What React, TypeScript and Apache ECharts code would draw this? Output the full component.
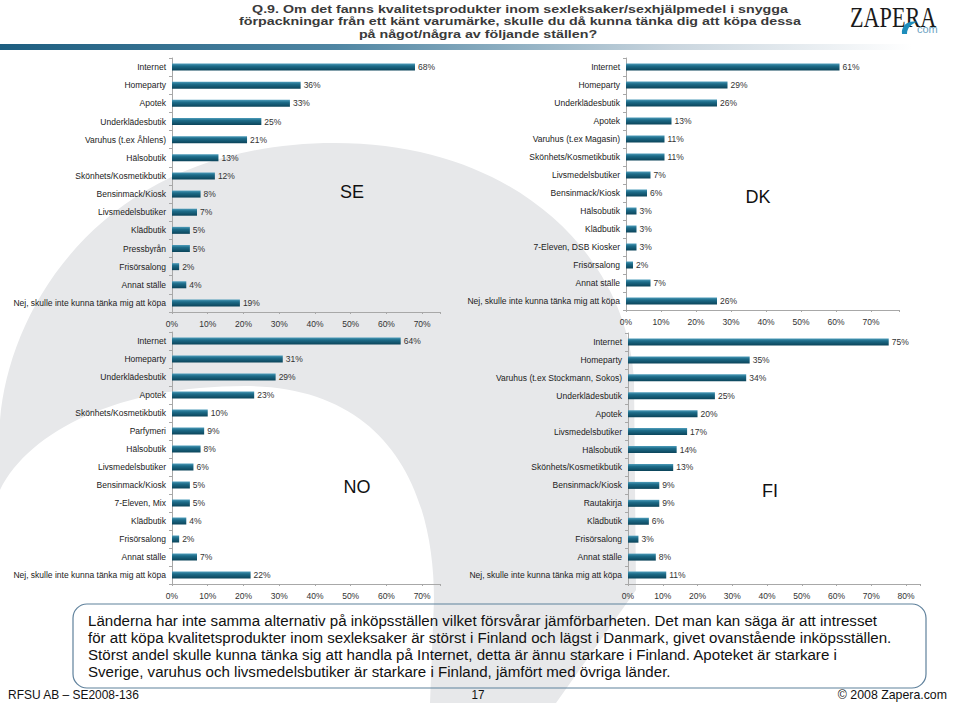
import React, { useEffect, useRef } from "react";
import * as echarts from "echarts";

const seCategories = ["Internet", "Homeparty", "Apotek", "Underklädesbutik", "Varuhus (t.ex Åhlens)", "Hälsobutik", "Skönhets/Kosmetikbutik", "Bensinmack/Kiosk", "Livsmedelsbutiker", "Klädbutik", "Pressbyrån", "Frisörsalong", "Annat ställe", "Nej, skulle inte kunna tänka mig att köpa"];
const seValues = [68, 36, 33, 25, 21, 13, 12, 8, 7, 5, 5, 2, 4, 19];

const dkCategories = ["Internet", "Homeparty", "Underklädesbutik", "Apotek", "Varuhus (t.ex Magasin)", "Skönhets/Kosmetikbutik", "Livsmedelsbutiker", "Bensinmack/Kiosk", "Hälsobutik", "Klädbutik", "7-Eleven, DSB Kiosker", "Frisörsalong", "Annat ställe", "Nej, skulle inte kunna tänka mig att köpa"];
const dkValues = [61, 29, 26, 13, 11, 11, 7, 6, 3, 3, 3, 2, 7, 26];

const noCategories = ["Internet", "Homeparty", "Underklädesbutik", "Apotek", "Skönhets/Kosmetikbutik", "Parfymeri", "Hälsobutik", "Livsmedelsbutiker", "Bensinmack/Kiosk", "7-Eleven, Mix", "Klädbutik", "Frisörsalong", "Annat ställe", "Nej, skulle inte kunna tänka mig att köpa"];
const noValues = [64, 31, 29, 23, 10, 9, 8, 6, 5, 5, 4, 2, 7, 22];

const fiCategories = ["Internet", "Homeparty", "Varuhus (t.ex Stockmann, Sokos)", "Underklädesbutik", "Apotek", "Livsmedelsbutiker", "Hälsobutik", "Skönhets/Kosmetikbutik", "Bensinmack/Kiosk", "Rautakirja", "Klädbutik", "Frisörsalong", "Annat ställe", "Nej, skulle inte kunna tänka mig att köpa"];
const fiValues = [75, 35, 34, 25, 20, 17, 14, 13, 9, 9, 6, 3, 8, 11];

const countryLabels = ["SE", "DK", "NO", "FI"];
const axisMax = [75, 78, 75, 84];

const titleLines = [
  "Q.9. Om det fanns kvalitetsprodukter inom sexleksaker/sexhjälpmedel i snygga",
  "förpackningar från ett känt varumärke, skulle du då kunna tänka dig att köpa dessa",
  "på något/några av följande ställen?",
];

const noteLines = [
  "Länderna har inte samma alternativ på inköpsställen vilket försvårar jämförbarheten. Det man kan säga är att intresset",
  "för att köpa kvalitetsprodukter inom sexleksaker är störst i Finland och lägst i Danmark, givet ovanstående inköpsställen.",
  "Störst andel skulle kunna tänka sig att handla på Internet, detta är ännu starkare i Finland. Apoteket är starkare i",
  "Sverige, varuhus och livsmedelsbutiker är starkare i Finland, jämfört med övriga länder.",
];

const footerLeft = "RFSU AB – SE2008-136";
const footerPage = "17";
const footerRight = "© 2008 Zapera.com";

const SWOOSH =
  "M0,490 L0,420 C10,300 110,143 335,143 C520,143 628,260 634,380 L636,590 L556,703 L430,703 L434,600 C434,480 380,386 245,386 C120,386 30,430 0,490 Z";
const DROP = "M902,34 C901,26 908,20 917,22 C911,24 907,28 907,34 Z";

let registered = false;

export default function App() {
  const ref = useRef<HTMLDivElement>(null);
  useEffect(() => {
    document.body.style.margin = "0";
    if (!registered) {
      echarts.graphic.registerShape("bgSwoosh", echarts.graphic.extendPath(SWOOSH, {}));
      echarts.graphic.registerShape("logoDrop", echarts.graphic.extendPath(DROP, {}));
      registered = true;
    }
    const chart = echarts.init(ref.current!, null, { renderer: "svg" });

    const font = "'Liberation Sans', Arial, sans-serif";

    const grids = [
      { left: 172, top: 58, width: 268, height: 254 },
      { left: 626, top: 58, width: 273, height: 252 },
      { left: 172, top: 332, width: 268, height: 252 },
      { left: 628, top: 333, width: 292, height: 251 },
    ];
    const cats = [seCategories, dkCategories, noCategories, fiCategories];
    const vals = [seValues, dkValues, noValues, fiValues];

    const barColor = new echarts.graphic.LinearGradient(0, 0, 0, 1, [
      { offset: 0, color: "#4d9cba" },
      { offset: 0.35, color: "#1d6c89" },
      { offset: 1, color: "#0b445a" },
    ]);

    const option: any = {
      animation: false,
      backgroundColor: "#ffffff",
      grid: grids.map((g) => ({ ...g, containLabel: false })),
      xAxis: grids.map((_, i) => ({
        type: "value",
        gridIndex: i,
        min: 0,
        max: axisMax[i],
        interval: 10,
        splitLine: { show: false },
        axisLine: { show: true, lineStyle: { color: "#a8a8a8", width: 1 } },
        axisTick: { show: true, length: 2, lineStyle: { color: "#a8a8a8" } },
        axisLabel: {
          margin: 7,
          fontSize: 8.5,
          fontFamily: font,
          color: "#333",
          formatter: (v: number) => (v % 10 === 0 ? v + "%" : ""),
        },
      })),
      yAxis: grids.map((_, i) => ({
        type: "category",
        gridIndex: i,
        inverse: true,
        data: cats[i],
        axisLine: { show: true, lineStyle: { color: "#a8a8a8", width: 1 } },
        axisTick: { show: true, length: 3, lineStyle: { color: "#a8a8a8" } },
        axisLabel: { margin: 6, fontSize: 8.5, fontFamily: font, color: "#222" },
      })),
      series: grids.map((_, i) => ({
        type: "bar",
        xAxisIndex: i,
        yAxisIndex: i,
        data: vals[i],
        barWidth: 7,
        itemStyle: { color: barColor },
        label: {
          show: true,
          position: "right",
          distance: 3,
          formatter: "{c}%",
          fontSize: 8.5,
          fontFamily: font,
          color: "#333",
        },
      })),
      graphic: [
        { type: "bgSwoosh", z: -100, silent: true, style: { fill: "#e7e8ea" } },
        {
          type: "rect",
          z: -50,
          shape: { x: 0, y: 44, width: 960, height: 6 },
          style: {
            fill: new echarts.graphic.LinearGradient(0, 0, 1, 0, [
              { offset: 0, color: "#1d5e80" },
              { offset: 0.35, color: "#4f86a3" },
              { offset: 0.7, color: "#c9d5de" },
              { offset: 0.95, color: "#ffffff" },
            ]),
          },
        },
        ...titleLines.map((t, i) => ({
          type: "text",
          x: i < 2 ? 520 : 478,
          y: 9 + i * 12.5,
          scaleX: 1.24,
          style: {
            text: t,
            fontFamily: font,
            fontWeight: "bold",
            fontSize: 11.5,
            fill: "#3a3a3a",
            textAlign: "center",
            textVerticalAlign: "middle",
          },
        })),
        {
          type: "text",
          x: 850,
          y: 2,
          scaleX: 0.74,
          style: {
            text: "ZAPERA",
            fontFamily: "'Liberation Serif', 'DejaVu Serif', serif",
            fontSize: 30,
            fill: "#1a1a1a",
            textAlign: "left",
            textVerticalAlign: "top",
          },
        },
        { type: "logoDrop", style: { fill: "#1e8dbb" } },
        {
          type: "text",
          x: 917,
          y: 29,
          style: { text: "com", fontFamily: font, fontSize: 11, fill: "#6aa2c2", textVerticalAlign: "middle" },
        },
        ...countryLabels.map((c, i) => ({
          type: "text",
          x: [352, 758, 357, 770][i],
          y: [192, 197, 487, 491][i],
          style: {
            text: c,
            fontFamily: font,
            fontSize: 18,
            fill: "#111",
            textAlign: "center",
            textVerticalAlign: "middle",
          },
        })),
        {
          type: "rect",
          shape: { x: 73, y: 604, width: 853, height: 84, r: 14 },
          style: { fill: "none", stroke: "#5f819c", lineWidth: 1.2 },
        },
        ...noteLines.map((t, i) => ({
          type: "text",
          x: 88,
          y: 620 + i * 17.3,
          scaleX: 0.975,
          style: {
            text: t,
            fontFamily: font,
            fontSize: 15.5,
            fill: "#111",
            textAlign: "left",
            textVerticalAlign: "middle",
          },
        })),
        {
          type: "text",
          x: 8,
          y: 695,
          scaleX: 0.92,
          style: { text: footerLeft, fontFamily: font, fontSize: 13, fill: "#111", textVerticalAlign: "middle" },
        },
        {
          type: "text",
          x: 478,
          y: 695,
          scaleX: 0.9,
          style: { text: footerPage, fontFamily: font, fontSize: 13, fill: "#111", textAlign: "center", textVerticalAlign: "middle" },
        },
        {
          type: "text",
          x: 947,
          y: 695,
          scaleX: 0.95,
          style: { text: footerRight, fontFamily: font, fontSize: 13, fill: "#111", textAlign: "right", textVerticalAlign: "middle" },
        },
      ],
    };
    chart.setOption(option);
    return () => chart.dispose();
  }, []);
  return <div ref={ref} style={{ width: 960, height: 703 }} />;
}
